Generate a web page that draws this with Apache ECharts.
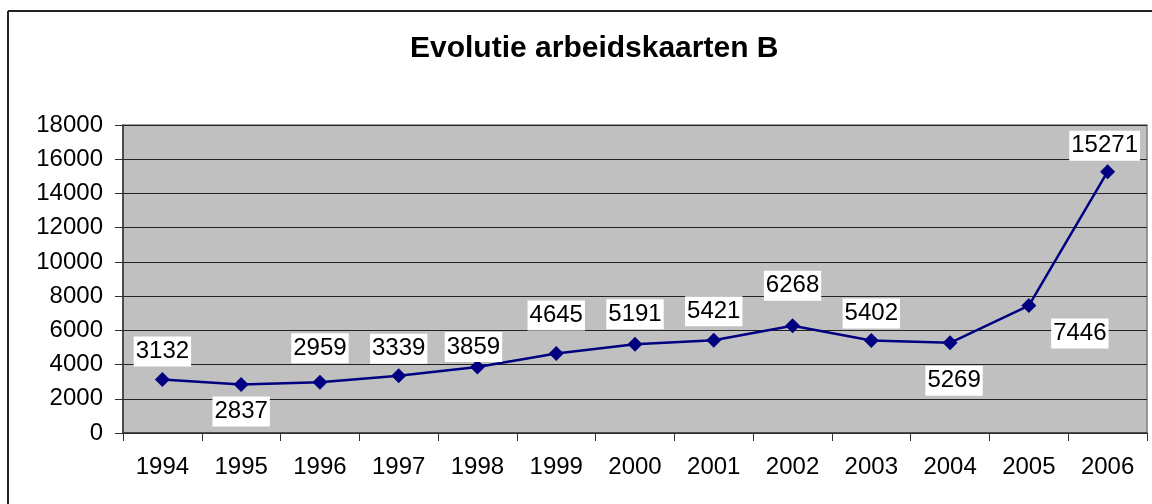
<!DOCTYPE html>
<html>
<head>
<meta charset="utf-8">
<script src="https://cdn.jsdelivr.net/npm/echarts@6/dist/echarts.min.js"></script>
<style>html,body{margin:0;padding:0;background:#fff;}#c{width:1152px;height:504px;}</style>
</head>
<body>
<div id="c"></div>
<script>
const title = 'Evolutie arbeidskaarten B';
const years = ['1994','1995','1996','1997','1998','1999','2000','2001','2002','2003','2004','2005','2006'];
const values = [3132, 2837, 2959, 3339, 3859, 4645, 5191, 5421, 6268, 5402, 5269, 7446, 15271];
const labelOffsets = [[0,-28],[0,27],[0,-34],[0,-27],[-4,-20],[0,-38],[0,-30],[0,-29],[0,-40],[0,-27],[4,38],[51,28],[-3,-26]];

const chart = echarts.init(document.getElementById('c'), null, {renderer:'canvas'});
const font = 'Arial, "Liberation Sans", sans-serif';
chart.setOption({
  animation: false,
  backgroundColor: '#ffffff',
  title: {
    text: title, left: 405, top: 29,
    textStyle: {fontFamily: font, fontSize: 30, fontWeight: 'bold', color: '#000'}
  },
  graphic: [
    {type:'line', shape:{x1:8,y1:11,x2:1152,y2:11}, style:{stroke:'#222',lineWidth:2}},
    {type:'line', shape:{x1:8,y1:11,x2:8,y2:504}, style:{stroke:'#222',lineWidth:2}}
  ],
  grid: {left:123, right:5, top:125, bottom:71, show:true, backgroundColor:'#c0c0c0', borderColor:'#808080', borderWidth:1.5},
  xAxis: {
    type:'category', data: years, boundaryGap:true,
    axisLine:{lineStyle:{color:'#333', width:1.5}},
    axisTick:{show:true, interval:0, length:8, lineStyle:{color:'#333'}},
    axisLabel:{fontFamily:font, fontSize:24, color:'#000', margin:22}
  },
  yAxis: {
    type:'value', min:0, max:18000, interval:2000,
    axisLine:{show:true, lineStyle:{color:'#333', width:1.5}},
    axisTick:{show:true, length:8, lineStyle:{color:'#333'}},
    splitLine:{show:true, lineStyle:{color:'#222', width:1}},
    axisLabel:{fontFamily:font, fontSize:24, color:'#000', margin:20, formatter: v => String(v)}
  },
  series: [{
    type:'line',
    data: values.map((v,i)=>({value:v, label:{offset:labelOffsets[i]}})),
    symbol:'diamond', symbolSize:[15,15],
    lineStyle:{color:'#000080', width:2.5},
    itemStyle:{color:'#000080'},
    label:{show:true, position:'inside', fontFamily:font, fontSize:24, color:'#000',
      backgroundColor:'#fff', padding:[4,2,2,2]}
  }]
});
</script>
</body>
</html>
